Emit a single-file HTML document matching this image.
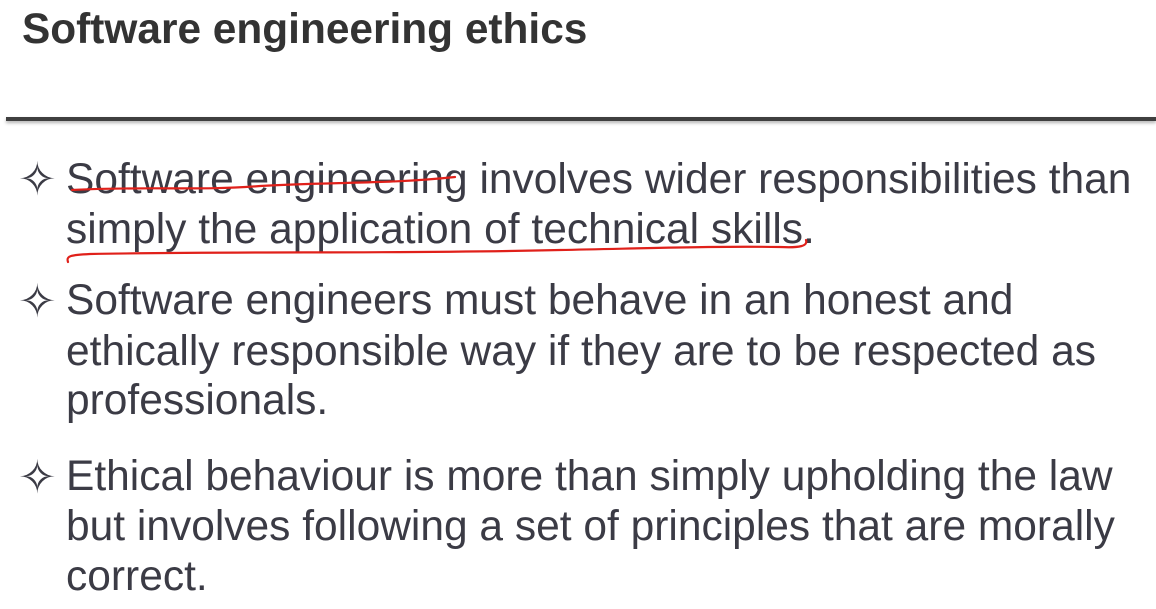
<!DOCTYPE html>
<html><head><meta charset="utf-8"><style>
html,body{margin:0;padding:0;background:#fff;}
body{width:1156px;height:609px;position:relative;overflow:hidden;font-family:"Liberation Sans",Arial,sans-serif;color:#3b3b45;}
.t{position:absolute;white-space:nowrap;font-size:42.5px;line-height:50px;}
.b{position:absolute;font-size:46px;line-height:50px;left:18px;color:#3b3b45;}
</style></head><body>
<div style="position:absolute;left:22px;top:5px;font-size:42.4px;font-weight:bold;color:#333;white-space:nowrap;line-height:48px;">Software engineering ethics</div>
<div style="position:absolute;left:6px;top:117px;width:1150px;height:4px;background:#3f3f3f;box-shadow:0 2px 3px rgba(0,0,0,0.3);"></div>

<div class="b" style="top:154px;">✧</div>
<div class="t" style="left:66px;top:155px;">Software engineering involves wider responsibilities than</div>
<div class="t" style="left:66px;top:205px;">simply the application of technical skills.</div>

<div class="b" style="top:276px;">✧</div>
<div class="t" style="left:66px;top:276px;">Software engineers must behave in an honest and</div>
<div class="t" style="left:66px;top:327px;">ethically responsible way if they are to be respected as</div>
<div class="t" style="left:66px;top:376px;">professionals.</div>

<div class="b" style="top:452px;">✧</div>
<div class="t" style="left:66px;top:452px;">Ethical behaviour is more than simply upholding the law</div>
<div class="t" style="left:66px;top:502px;">but involves following a set of principles that are morally</div>
<div class="t" style="left:66px;top:552px;">correct.</div>

<svg width="1156" height="609" style="position:absolute;left:0;top:0;" fill="none" stroke="#e0201a" stroke-width="2.2" stroke-linecap="round">
<path d="M72,190 C150,186 200,191 260,186 C330,182 390,184 455,177"/>
<path d="M68,262 C66,256 70,255 90,254 C250,251 400,254 560,250 C660,248 720,246 780,247 C800,248 808,246 806,240"/>
</svg>
</body></html>
